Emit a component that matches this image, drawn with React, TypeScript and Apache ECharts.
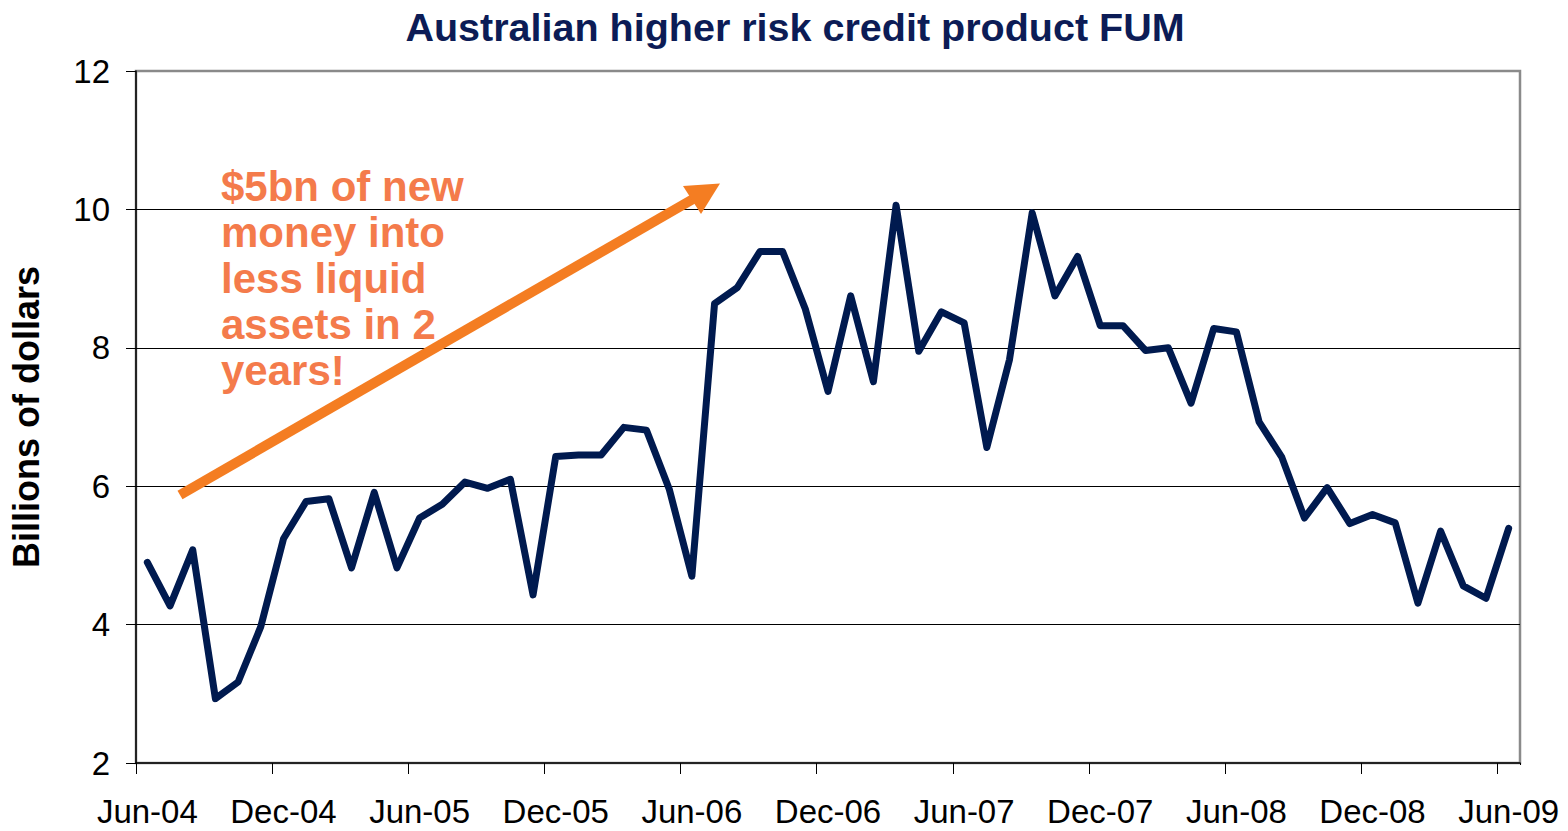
import React, { useEffect, useRef } from "react";
import * as echarts from "echarts";

const months: string[] = [
  "Jun-04","Jul-04","Aug-04","Sep-04","Oct-04","Nov-04","Dec-04","Jan-05","Feb-05","Mar-05","Apr-05","May-05",
  "Jun-05","Jul-05","Aug-05","Sep-05","Oct-05","Nov-05","Dec-05","Jan-06","Feb-06","Mar-06","Apr-06","May-06",
  "Jun-06","Jul-06","Aug-06","Sep-06","Oct-06","Nov-06","Dec-06","Jan-07","Feb-07","Mar-07","Apr-07","May-07",
  "Jun-07","Jul-07","Aug-07","Sep-07","Oct-07","Nov-07","Dec-07","Jan-08","Feb-08","Mar-08","Apr-08","May-08",
  "Jun-08","Jul-08","Aug-08","Sep-08","Oct-08","Nov-08","Dec-08","Jan-09","Feb-09","Mar-09","Apr-09","May-09",
  "Jun-09",
];

const fum: number[] = [
  4.90, 4.27, 5.08, 2.93, 3.17, 3.97, 5.24, 5.78, 5.82, 4.82, 5.91, 4.82,
  5.54, 5.74, 6.06, 5.97, 6.10, 4.43, 6.43, 6.45, 6.45, 6.85, 6.81, 5.96,
  4.70, 8.64, 8.87, 9.39, 9.39, 8.56, 7.37, 8.75, 7.51, 10.06, 7.95, 8.52,
  8.36, 6.56, 7.83, 9.95, 8.75, 9.32, 8.32, 8.32, 7.96, 8.00, 7.20, 8.28,
  8.23, 6.93, 6.42, 5.54, 5.98, 5.46, 5.59, 5.47, 4.31, 5.35, 4.56, 4.38,
  5.39,
];

const yTicks = { min: 2, max: 12, interval: 2 };
const titleText = "Australian higher risk credit product FUM";
const yAxisTitle = "Billions of dollars";
const annotationLines: string[] = ["$5bn of new", "money into", "less liquid", "assets in 2", "years!"];

const FONT = "'Liberation Sans', Arial, Helvetica, sans-serif";
const NAVY = "#001a4f";
const TITLE_NAVY = "#0c1c56";
const ORANGE_TEXT = "#f47b4b";
const ORANGE_ARROW = "#f47d22";

export default function App() {
  const ref = useRef<HTMLDivElement>(null);

  useEffect(() => {
    document.body.style.margin = "0";
    if (!ref.current) return;
    const chart = echarts.init(ref.current, undefined, { renderer: "svg" });
    chart.setOption({
      animation: false,
      backgroundColor: "#ffffff",
      title: {
        text: titleText,
        left: 790,
        textAlign: "center",
        top: 2,
        textStyle: { fontFamily: FONT, fontWeight: "bold", fontSize: 39.5, color: TITLE_NAVY },
      },
      grid: {
        left: 135,
        right: 48,
        top: 71,
        bottom: 68,
        show: true,
        borderColor: "#8a8a8a",
        borderWidth: 2.5,
        backgroundColor: "transparent",
      },
      xAxis: {
        type: "category",
        data: months,
        boundaryGap: true,
        axisLine: { lineStyle: { color: "#000", width: 1.5 } },
        axisTick: { show: true, interval: 5, length: 11, lineStyle: { color: "#000", width: 1 } },
        axisLabel: {
          interval: 5,
          margin: 32,
          fontFamily: FONT,
          fontSize: 33,
          color: "#000",
        },
        splitLine: { show: false },
      },
      yAxis: {
        type: "value",
        min: yTicks.min,
        max: yTicks.max,
        interval: yTicks.interval,
        name: yAxisTitle,
        nameLocation: "middle",
        nameRotate: 90,
        nameGap: 92,
        nameTextStyle: { fontFamily: FONT, fontWeight: "bold", fontSize: 36, color: "#000" },
        axisLine: { show: true, lineStyle: { color: "#000", width: 1.5 } },
        axisTick: { show: true, inside: false, length: 10, lineStyle: { color: "#000" } },
        axisLabel: { margin: 26, fontFamily: FONT, fontSize: 33, color: "#000" },
        splitLine: { show: true, showMinLine: false, showMaxLine: false, lineStyle: { color: "#000", width: 1 } },
      },
      series: [
        {
          type: "line",
          data: fum,
          symbol: "none",
          lineStyle: { color: NAVY, width: 7, join: "round", cap: "round" },
          itemStyle: { color: NAVY },
          z: 5,
        },
      ],
      graphic: [
        {
          type: "rect",
          shape: { x: 1515, y: 765, width: 12, height: 14 },
          style: { fill: "#ffffff" },
          z: 20,
        },
        {
          type: "line",
          shape: { x1: 180, y1: 495, x2: 694, y2: 198.5 },
          style: { stroke: ORANGE_ARROW, lineWidth: 10 },
          z: 10,
        },
        {
          type: "polygon",
          shape: { points: [[683, 186], [720, 183.5], [701, 214]] },
          style: { fill: ORANGE_ARROW },
          z: 10,
        },
        {
          type: "text",
          x: 221,
          y: 163,
          z: 11,
          style: {
            text: annotationLines.join("\n"),
            fontFamily: FONT,
            fontWeight: "bold",
            fontSize: 42,
            lineHeight: 46,
            fill: ORANGE_TEXT,
            textVerticalAlign: "top",
          },
        },
      ],
    });
    return () => chart.dispose();
  }, []);

  return <div ref={ref} style={{ width: 1568, height: 831, position: "absolute", left: 0, top: 0 }} />;
}
